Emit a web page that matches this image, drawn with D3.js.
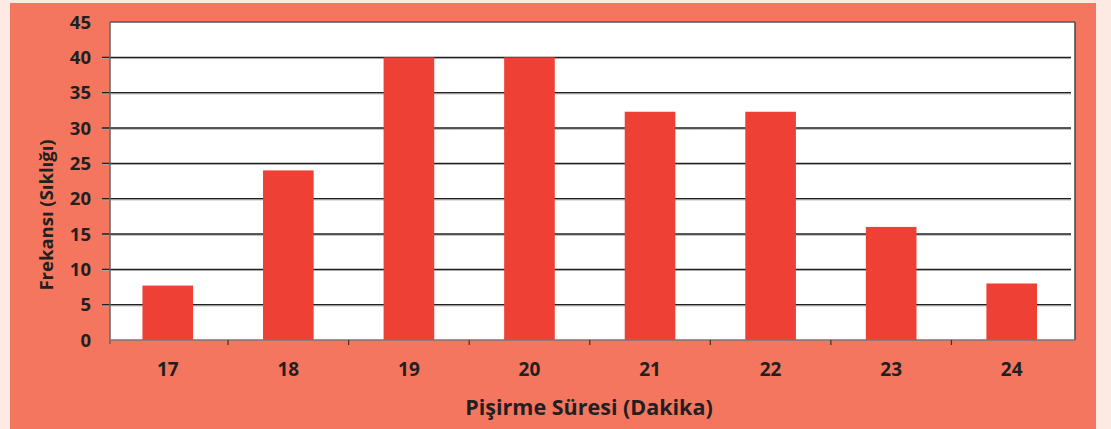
<!DOCTYPE html>
<html>
<head>
<meta charset="utf-8">
<script src="https://cdn.jsdelivr.net/npm/d3@7"></script>
<style>
  body { margin: 0; background: #fdebe3; }
  svg { display: block; }
  text { font-family: "Open Sans", sans-serif; font-weight: 700; fill: #231f20; }
</style>
</head>
<body>
<div id="chart"></div>
<script>
// data
var sureler = ["17", "18", "19", "20", "21", "22", "23", "24"];
var frekans = [7.7, 24, 40, 40, 32.3, 32.3, 16, 8];
var yTicks = [0, 5, 10, 15, 20, 25, 30, 35, 40, 45];

var W = 1111, H = 429;
var plot = { left: 110, right: 1075, top: 22, bottom: 340 };

var svg = d3.select("#chart").append("svg")
    .attr("width", W)
    .attr("height", H);

// salmon panel
svg.append("rect")
    .attr("x", 10).attr("y", 3)
    .attr("width", 1086).attr("height", H - 3)
    .attr("fill", "#f4765e");

// white plot area
svg.append("rect")
    .attr("x", plot.left).attr("y", plot.top)
    .attr("width", plot.right - plot.left)
    .attr("height", plot.bottom - plot.top)
    .attr("fill", "#ffffff");

var x = d3.scaleBand()
    .domain(sureler)
    .range([107.5, 1072])
    .padding(0);

var y = d3.scaleLinear()
    .domain([0, 45])
    .range([plot.bottom, plot.top]);

// grid lines (dark line + grey shadow)
var grid = svg.append("g");
yTicks.filter(function(d) { return d > 0 && d < 45; }).forEach(function(t) {
    grid.append("line")
        .attr("x1", 102).attr("x2", 1071)
        .attr("y1", y(t) + 1.2).attr("y2", y(t) + 1.2)
        .attr("stroke", "#a7a7a7").attr("stroke-width", 1);
    grid.append("line")
        .attr("x1", 102).attr("x2", 1071)
        .attr("y1", y(t)).attr("y2", y(t))
        .attr("stroke", "#231f20").attr("stroke-width", 1.3);
});

// bars
var barW = x.bandwidth() * 0.42;
svg.selectAll(".bar")
    .data(frekans)
    .enter()
    .append("rect")
    .attr("class", "bar")
    .attr("x", function(d, i) { return x(sureler[i]) + x.bandwidth() / 2 - barW / 2; })
    .attr("y", function(d) { return y(d); })
    .attr("width", barW)
    .attr("height", function(d) { return y(0) - y(d); })
    .attr("fill", "#ef4036");

// plot frame
svg.append("line")
    .attr("x1", plot.left).attr("x2", plot.right)
    .attr("y1", plot.top).attr("y2", plot.top)
    .attr("stroke", "#555").attr("stroke-width", 1.5);
svg.append("line")
    .attr("x1", plot.left).attr("x2", plot.left)
    .attr("y1", plot.top).attr("y2", plot.bottom + 4)
    .attr("stroke", "#666").attr("stroke-width", 1.5);
svg.append("line")
    .attr("x1", plot.right).attr("x2", plot.right)
    .attr("y1", plot.top).attr("y2", plot.bottom)
    .attr("stroke", "#444").attr("stroke-width", 1.5);
svg.append("line")
    .attr("x1", plot.left).attr("x2", plot.right)
    .attr("y1", plot.bottom).attr("y2", plot.bottom)
    .attr("stroke", "#777").attr("stroke-width", 1.5);

// x axis ticks between categories
sureler.slice(1).forEach(function(s) {
    svg.append("line")
        .attr("x1", x(s)).attr("x2", x(s))
        .attr("y1", plot.bottom).attr("y2", plot.bottom + 5)
        .attr("stroke", "#333").attr("stroke-width", 1.2);
});

// y tick labels
svg.selectAll(".ylab")
    .data(yTicks)
    .enter()
    .append("text")
    .attr("class", "ylab")
    .attr("x", 91)
    .attr("y", function(d) { return y(d); })
    .attr("dy", "0.36em")
    .attr("text-anchor", "end")
    .style("font-size", "18.5px")
    .text(function(d) { return d; });

// x tick labels
svg.selectAll(".xlab")
    .data(sureler)
    .enter()
    .append("text")
    .attr("class", "xlab")
    .attr("x", function(d) { return x(d) + x.bandwidth() / 2; })
    .attr("y", 376)
    .attr("text-anchor", "middle")
    .style("font-size", "19px")
    .text(function(d) { return d; });

// axis titles
svg.append("text")
    .attr("x", 589).attr("y", 415)
    .attr("text-anchor", "middle")
    .style("font-size", "21.5px")
    .text("Pişirme Süresi (Dakika)");

svg.append("text")
    .attr("transform", "translate(53,215) rotate(-90)")
    .attr("text-anchor", "middle")
    .style("font-size", "18.5px")
    .text("Frekansı (Sıklığı)");
</script>
</body>
</html>
